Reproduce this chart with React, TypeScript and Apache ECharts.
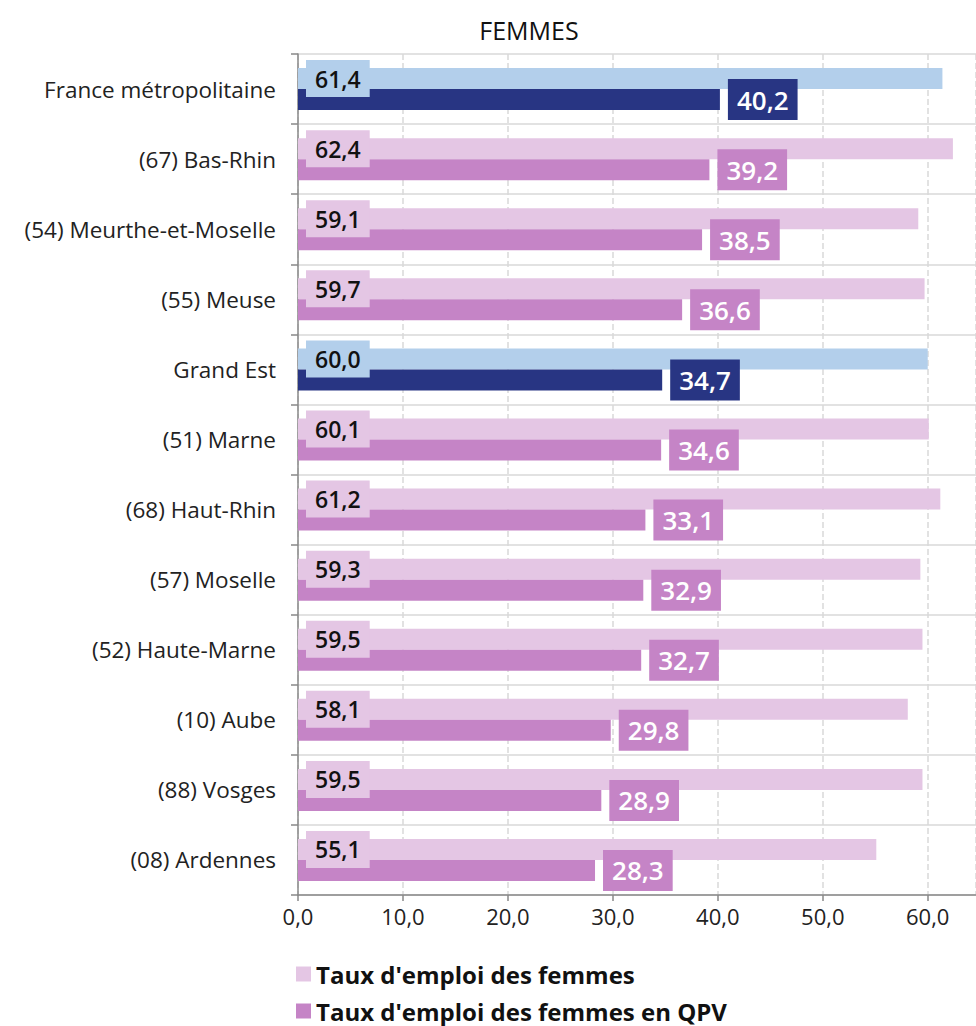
import React, { useEffect, useRef } from "react";
import * as echarts from "echarts";

const categories = [
  "France métropolitaine",
  "(67) Bas-Rhin",
  "(54) Meurthe-et-Moselle",
  "(55) Meuse",
  "Grand Est",
  "(51) Marne",
  "(68) Haut-Rhin",
  "(57) Moselle",
  "(52) Haute-Marne",
  "(10) Aube",
  "(88) Vosges",
  "(08) Ardennes",
];
const tauxFemmes = [61.4, 62.4, 59.1, 59.7, 60.0, 60.1, 61.2, 59.3, 59.5, 58.1, 59.5, 55.1];
const tauxFemmesQPV = [40.2, 39.2, 38.5, 36.6, 34.7, 34.6, 33.1, 32.9, 32.7, 29.8, 28.9, 28.3];
const highlighted = ["France métropolitaine", "Grand Est"];
const seriesNames = ["Taux d'emploi des femmes", "Taux d'emploi des femmes en QPV"];

const PINK_LIGHT = "#e4c6e4";
const PINK_DARK = "#c584c6";
const BLUE_LIGHT = "#b3cfeb";
const BLUE_DARK = "#283583";
const FONT = "'Open Sans', 'Noto Sans', sans-serif";

const fmt = (v: number) => v.toFixed(1).replace(".", ",");

export default function App() {
  const ref = useRef<HTMLDivElement>(null);
  useEffect(() => {
    document.body.style.margin = "0";
    const chart = echarts.init(ref.current!, null, { renderer: "svg" });
    const lightData = tauxFemmes.map((v, i) => {
      const hl = highlighted.includes(categories[i]);
      const c = hl ? BLUE_LIGHT : PINK_LIGHT;
      return { value: v, itemStyle: { color: c }, label: { backgroundColor: c } };
    });
    const darkData = tauxFemmesQPV.map((v, i) => {
      const hl = highlighted.includes(categories[i]);
      const c = hl ? BLUE_DARK : PINK_DARK;
      return { value: v, itemStyle: { color: c }, label: { backgroundColor: c } };
    });
    const legendBase = {
      orient: "vertical",
      left: 296,
      itemWidth: 15,
      itemHeight: 15,
      itemGap: 6,
      icon: "rect",
      selectedMode: false,
      padding: 0,
      textStyle: { fontFamily: FONT, fontSize: 24, fontWeight: "bold", color: "#111", lineHeight: 22 },
    };
    chart.setOption({
      animation: false,
      textStyle: { fontFamily: FONT },
      title: {
        text: "FEMMES",
        left: 524,
        top: 12,
        textAlign: "center",
        textStyle: { fontFamily: FONT, fontSize: 25, fontWeight: "normal", color: "#111" },
      },
      legend: [
        { ...legendBase, top: 962, data: [seriesNames[0]] },
        { ...legendBase, top: 999, data: [seriesNames[1]] },
      ],
      grid: { left: 298, right: 0, top: 54, bottom: 131, containLabel: false },
      xAxis: {
        type: "value",
        min: 0,
        max: 64.6,
        interval: 10,
        axisLine: { show: true, lineStyle: { color: "#888", width: 1.5 } },
        axisTick: { show: true, length: 6, lineStyle: { color: "#888", width: 1.5 } },
        axisLabel: {
          showMaxLabel: false,
          formatter: (v: number) => (v > 60 ? "" : fmt(v)),
          fontFamily: FONT,
          fontSize: 22,
          color: "#222",
          margin: 10,
        },
        splitLine: { show: true, lineStyle: { color: "#d9d9d9", type: "dashed", width: 1.5 } },
      },
      yAxis: {
        type: "category",
        data: categories,
        inverse: true,
        axisLine: { show: true, lineStyle: { color: "#888", width: 1.5 } },
        axisTick: { show: true, length: 7, lineStyle: { color: "#888", width: 1.5 } },
        axisLabel: { fontFamily: FONT, fontSize: 22.5, color: "#222", margin: 22 },
        splitLine: { show: true, lineStyle: { color: "#d9d9d9", width: 1.5 } },
      },
      series: [
        {
          name: seriesNames[0],
          type: "bar",
          data: lightData,
          barWidth: 21,
          barGap: "0%",
          itemStyle: { color: PINK_LIGHT },
          label: {
            show: true,
            position: "insideLeft",
            distance: 8,
            formatter: (p: any) => fmt(p.value),
            fontFamily: FONT,
            fontSize: 23,
            fontWeight: 600,
            color: "#111",
            lineHeight: 25,
            padding: [6, 9, 6, 9],
          },
        },
        {
          name: seriesNames[1],
          type: "bar",
          data: darkData,
          barWidth: 21,
          barGap: "0%",
          itemStyle: { color: PINK_DARK },
          label: {
            show: true,
            position: "right",
            distance: 8,
            formatter: (p: any) => fmt(p.value),
            fontFamily: FONT,
            fontSize: 26,
            fontWeight: 600,
            color: "#fff",
            lineHeight: 29,
            padding: [6, 9, 6, 9],
          },
        },
      ],
    });
    return () => chart.dispose();
  }, []);
  return <div ref={ref} style={{ width: 976, height: 1026 }} />;
}
